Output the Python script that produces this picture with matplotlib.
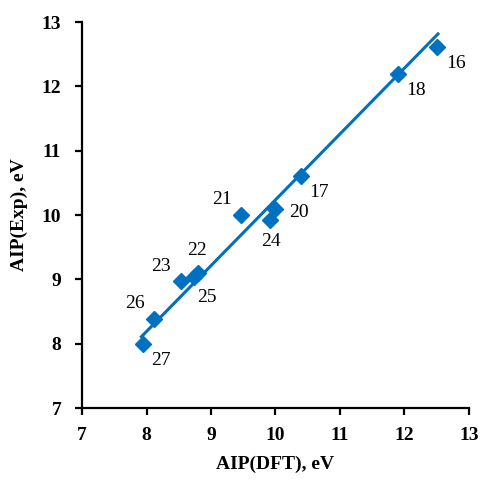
import numpy as np
import matplotlib.pyplot as plt

# AIP values, eV
labels = ["16", "18", "17", "21", "20", "24", "22", "25", "23", "26", "27"]
aip_dft = [12.50, 11.90, 10.40, 9.47, 9.99, 9.91, 8.80, 8.74, 8.53, 8.12, 7.94]
aip_exp = [12.62, 12.19, 10.61, 10.00, 10.10, 9.92, 9.10, 9.04, 8.97, 8.38, 8.00]

# label offsets in points
offsets = {"16": (14, -12), "18": (13, -12), "17": (13, -12), "21": (-14, 11),
           "20": (17, -3), "24": (1, -15), "22": (-1, 16), "25": (9, -15),
           "23": (-14, 11), "26": (-14, 11), "27": (13, -12)}

color = "#0070C0"
plt.rcParams['font.family'] = ['Liberation Serif', 'DejaVu Serif']

fig = plt.figure(figsize=(4.81, 4.82), dpi=100)
ax = fig.add_axes([0.1705, 0.1535, 0.8045, 0.8005])

x = np.array(aip_dft)
y = np.array(aip_exp)
# trendline through the origin
k = np.sum(x * y) / np.sum(x * x)
xl = np.array([x.min() - 0.02, x.max() + 0.02])
ax.plot(xl, k * xl, color=color, lw=2.2, zorder=2)
ax.plot(x, y, 'D', color=color, markersize=8, zorder=3)

for lab, xi, yi in zip(labels, aip_dft, aip_exp):
    dx, dy = offsets[lab]
    ax.annotate(lab, (xi, yi), xytext=(dx, dy), textcoords='offset points',
                ha='center', va='center', fontsize=14)

ax.set_xlim(7, 13)
ax.set_ylim(7, 13)
ax.set_xticks(range(7, 14))
ax.set_yticks(range(7, 14))
ax.spines['top'].set_visible(False)
ax.spines['right'].set_visible(False)
for s in ['left', 'bottom']:
    ax.spines[s].set_linewidth(1.6)
ax.tick_params(direction='out', length=5, width=1.6, labelsize=14)
ax.tick_params(axis='y', pad=10)
ax.tick_params(axis='x', pad=9)
for t in ax.get_xticklabels() + ax.get_yticklabels():
    t.set_fontweight('bold')
ax.set_xlabel("AIP(DFT), eV", fontsize=14, fontweight='bold', labelpad=8)
ax.set_ylabel("AIP(Exp), eV", fontsize=14, fontweight='bold', labelpad=10)

fig.savefig("out.png", dpi=100)
